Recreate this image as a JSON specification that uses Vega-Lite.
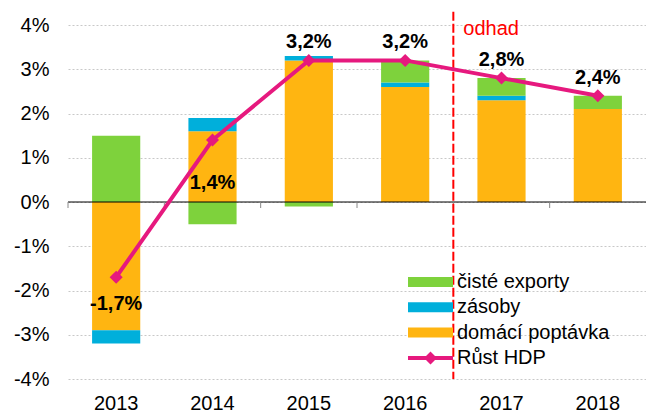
{
  "$schema": "https://vega.github.io/schema/vega-lite/v6.json",
  "width": 578,
  "height": 354,
  "autosize": {"type": "none"},
  "padding": {"left": 68, "top": 25, "right": 0, "bottom": 33},
  "background": "white",
  "config": {
    "view": {"stroke": null},
    "font": "Liberation Sans",
    "axis": {"labelFont": "Liberation Sans", "labelColor": "black"},
    "legend": {"labelFont": "Liberation Sans"}
  },
  "datasets": {
    "components": [
      {"year": "2013", "component": "domácí poptávka", "value": -2.9, "order": 1},
      {"year": "2013", "component": "zásoby", "value": -0.3, "order": 2},
      {"year": "2013", "component": "čisté exporty", "value": 1.5, "order": 3},
      {"year": "2014", "component": "domácí poptávka", "value": 1.6, "order": 1},
      {"year": "2014", "component": "zásoby", "value": 0.3, "order": 2},
      {"year": "2014", "component": "čisté exporty", "value": -0.5, "order": 3},
      {"year": "2015", "component": "domácí poptávka", "value": 3.2, "order": 1},
      {"year": "2015", "component": "zásoby", "value": 0.1, "order": 2},
      {"year": "2015", "component": "čisté exporty", "value": -0.1, "order": 3},
      {"year": "2016", "component": "domácí poptávka", "value": 2.6, "order": 1},
      {"year": "2016", "component": "zásoby", "value": 0.1, "order": 2},
      {"year": "2016", "component": "čisté exporty", "value": 0.5, "order": 3},
      {"year": "2017", "component": "domácí poptávka", "value": 2.3, "order": 1},
      {"year": "2017", "component": "zásoby", "value": 0.1, "order": 2},
      {"year": "2017", "component": "čisté exporty", "value": 0.4, "order": 3},
      {"year": "2018", "component": "domácí poptávka", "value": 2.1, "order": 1},
      {"year": "2018", "component": "zásoby", "value": 0.0, "order": 2},
      {"year": "2018", "component": "čisté exporty", "value": 0.3, "order": 3}
    ],
    "gdp": [
      {"year": "2013", "gdp": -1.7, "label": "-1,7%"},
      {"year": "2014", "gdp": 1.4, "label": "1,4%"},
      {"year": "2015", "gdp": 3.2, "label": "3,2%"},
      {"year": "2016", "gdp": 3.2, "label": "3,2%"},
      {"year": "2017", "gdp": 2.8, "label": "2,8%"},
      {"year": "2018", "gdp": 2.4, "label": "2,4%"}
    ],
    "annot": [{"year": "2017", "label": "odhad"}]
  },
  "layer": [
    {
      "data": {"name": "components"},
      "mark": {"type": "bar", "width": {"band": 0.5}},
      "encoding": {
        "x": {
          "field": "year", "type": "ordinal",
          "scale": {"paddingInner": 0, "paddingOuter": 0},
          "axis": {"title": null, "labelAngle": 0, "domain": false, "ticks": false, "tickSize": 0, "grid": false, "labelFontSize": 20, "labelPadding": 14}
        },
        "y": {
          "field": "value", "type": "quantitative", "stack": "zero",
          "scale": {"domain": [-4, 4], "nice": false},
          "axis": {"title": null, "values": [-4, -3, -2, -1, 0, 1, 2, 3, 4], "labelExpr": "datum.value + '%'", "grid": true, "gridDash": [2, 2], "gridColor": "#c8c8c8", "domain": false, "ticks": false, "tickSize": 0, "labelFontSize": 20, "labelPadding": 19}
        },
        "color": {
          "field": "component", "type": "nominal",
          "scale": {"domain": ["čisté exporty", "zásoby", "domácí poptávka", "Růst HDP"], "range": ["#7ED23C", "#00AFDB", "#FFB511", "#E6197E"]},
          "legend": {
            "title": null, "orient": "none", "legendX": 352.5, "legendY": 247,
            "padding": 0, "labelFontSize": 20, "labelColor": "black", "labelOffset": 16.5,
            "symbolSize": 400, "rowPadding": 5.3,
            "encode": {
              "symbols": {
                "update": {
                  "fill": {"signal": "scale('color', datum.value)"},
                  "stroke": {"value": "transparent"},
                  "strokeWidth": {"value": 0},
                  "shape": {"signal": "datum.value === 'Růst HDP' ? 'M-2.25,-0.2H-0.45L0,-0.65L0.45,-0.2H2.25V0.2H0.45L0,0.65L-0.45,0.2H-2.25Z' : 'M-2.25,-0.5H2.25V0.5H-2.25Z'"}
                }
              }
            }
          }
        },
        "order": {"field": "order", "type": "quantitative"}
      }
    },
    {
      "data": {"name": "annot"},
      "mark": {"type": "rule", "color": "black", "strokeWidth": 1},
      "encoding": {"y": {"datum": 0}}
    },
    {
      "data": {"name": "gdp"},
      "mark": {"type": "rule", "color": "#888888", "strokeWidth": 1, "y2Offset": 6},
      "encoding": {
        "x": {"field": "year", "type": "ordinal", "bandPosition": 0},
        "y": {"datum": 0},
        "y2": {"datum": 0}
      }
    },
    {
      "data": {"name": "annot"},
      "mark": {"type": "rule", "color": "#FF0000", "strokeWidth": 2, "strokeDash": [9, 3]},
      "encoding": {
        "x": {"field": "year", "type": "ordinal", "bandPosition": 0},
        "y": {"datum": 4.3},
        "y2": {"datum": -4}
      }
    },
    {
      "data": {"name": "annot"},
      "mark": {"type": "text", "color": "#FF0000", "fontSize": 20, "align": "left", "baseline": "middle", "dx": 10, "dy": 4},
      "encoding": {
        "x": {"field": "year", "type": "ordinal", "bandPosition": 0},
        "y": {"datum": 4},
        "text": {"field": "label"}
      }
    },
    {
      "data": {"name": "gdp"},
      "mark": {"type": "line", "strokeWidth": 4, "point": {"shape": "diamond", "size": 170, "filled": true}},
      "encoding": {
        "x": {"field": "year", "type": "ordinal"},
        "y": {"field": "gdp", "type": "quantitative"},
        "color": {"datum": "Růst HDP", "type": "nominal"}
      }
    },
    {
      "data": {"name": "gdp"},
      "transform": [{"filter": "datum.year >= '2015'"}],
      "mark": {"type": "text", "fontSize": 20, "fontWeight": "bold", "color": "black", "baseline": "middle", "dy": -18},
      "encoding": {
        "x": {"field": "year", "type": "ordinal"},
        "y": {"field": "gdp", "type": "quantitative"},
        "text": {"field": "label"}
      }
    },
    {
      "data": {"name": "gdp"},
      "transform": [{"filter": "datum.year === '2013'"}],
      "mark": {"type": "text", "fontSize": 20, "fontWeight": "bold", "color": "black", "baseline": "middle", "dy": 27},
      "encoding": {
        "x": {"field": "year", "type": "ordinal"},
        "y": {"field": "gdp", "type": "quantitative"},
        "text": {"field": "label"}
      }
    },
    {
      "data": {"name": "gdp"},
      "transform": [{"filter": "datum.year === '2014'"}],
      "mark": {"type": "text", "fontSize": 20, "fontWeight": "bold", "color": "black", "baseline": "middle", "dy": 43},
      "encoding": {
        "x": {"field": "year", "type": "ordinal"},
        "y": {"field": "gdp", "type": "quantitative"},
        "text": {"field": "label"}
      }
    }
  ]
}
